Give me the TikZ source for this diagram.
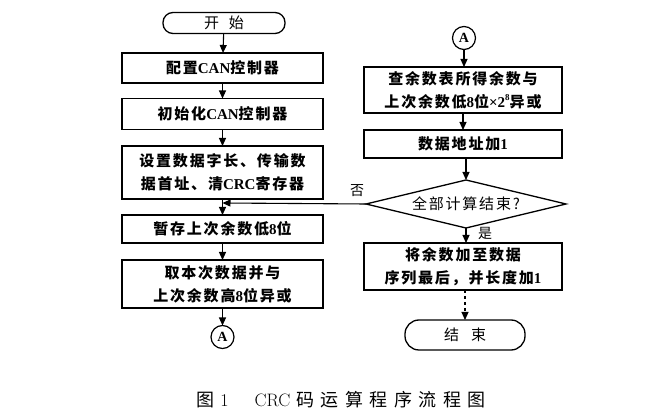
\documentclass[tikz,border=0pt]{standalone}
\usepackage{fontspec}
\newfontfamily\cjk[LetterSpace=12]{Noto Sans CJK SC}
\newfontfamily\capcjk[LetterSpace=36]{Noto Sans CJK SC}
\newfontfamily\latb{Liberation Serif}
\newcommand\lb[1]{{\latb\bfseries #1}}
\usetikzlibrary{shapes.geometric,arrows.meta}

\begin{document}
\begin{tikzpicture}[x=1pt,y=-1pt,
  every node/.style={inner sep=0pt, outer sep=0pt},
  proc/.style={draw, line width=1.3pt, minimum width=201pt, align=center,
    font=\cjk\bfseries\fontsize{15}{23}\selectfont},
  term/.style={draw, line width=1.3pt, font=\cjk\fontsize{15}{15}\selectfont},
  conn/.style={draw, circle, line width=1.2pt, minimum size=23pt,
    font=\latb\bfseries\fontsize{14}{14}\selectfont},
  dec/.style={draw, diamond, aspect=4.2, line width=1.3pt, minimum width=200pt, minimum height=48pt,
    font=\cjk\fontsize{15}{15}\selectfont},
  flow/.style={line width=1.1pt, -{Triangle[length=8pt,width=7pt]}},
  lbl/.style={font=\cjk\fontsize{14}{14}\selectfont}
]
\useasboundingbox (0,0) rectangle (670,419);

% left column
\node[term, minimum width=122pt, minimum height=21pt, rounded corners=10pt] (start) at (224,23) {开\hspace{10pt}始};
\node[proc, minimum height=30pt] (cfg) at (222.5,68) {配置\lb{CAN}控制器};
\node[proc, minimum height=31pt] (init) at (222.5,114) {初始化\lb{CAN}控制器};
\node[proc, minimum height=53pt] (setup) at (222.5,172.5) {设置数据字长、传输数\\据首址、清\lb{CRC}寄存器};
\node[proc, minimum height=28pt] (save) at (222.5,229) {暂存上次余数低\lb{8}位};
\node[proc, minimum height=48pt] (xorhi) at (222.5,284) {取本次数据并与\\上次余数高\lb{8}位异或};
\node[conn] (aout) at (222.5,337) {A};
\coordinate (merge) at (222.5,203);

% right column
\node[conn] (ain) at (464,38) {A};
\node[proc, minimum width=198pt, minimum height=46pt] (table) at (463,90) {查余数表所得余数与\\上次余数低\lb{8}位\lb{×2\raisebox{0.45em}{\fontsize{9}{9}\selectfont 8}}异或};
\node[proc, minimum width=198pt, minimum height=28pt] (addr) at (463,144) {数据地址加\lb{1}};
\node[dec] (done) at (466,204) {全部计算结束?};
\node[proc, minimum width=198pt, minimum height=47pt] (append) at (463,266.5) {将余数加至数据\\序列最后，并长度加\lb{1}};
\node[term, minimum width=120pt, minimum height=30pt, rounded corners=14pt] (stop) at (465,335) {结\hspace{12pt}束};

% connectors, left
\draw[flow] (start) -- (cfg);
\draw[flow] (cfg) -- (init);
\draw[flow] (init) -- (setup);
\draw[flow] (setup) -- (save);
\draw[flow] (save) -- (xorhi);
\draw[flow] (xorhi) -- (aout);

% connectors, right
\draw[flow] (ain) -- (ain |- table.north);
\draw[flow] (table.south -| addr) -- (addr);
\draw[flow] (addr.south -| done) -- (done);
\draw[flow] (done.south) -- (done.south |- append.north);
\draw[flow, dashed] (append.south -| stop) -- (stop);
\draw[flow] (done.west) -- (merge);

\node[lbl] (no) at (357,191) {否};
\node[lbl] (yes) at (485,233) {是};

% caption
\node (cap) at (341,400) {\capcjk\fontsize{18}{18}\selectfont 图\hspace{6pt}{\rmfamily 1}\hspace{26pt}{\rmfamily CRC}\hspace{6pt}码运算程序流程图};
\end{tikzpicture}
\end{document}
